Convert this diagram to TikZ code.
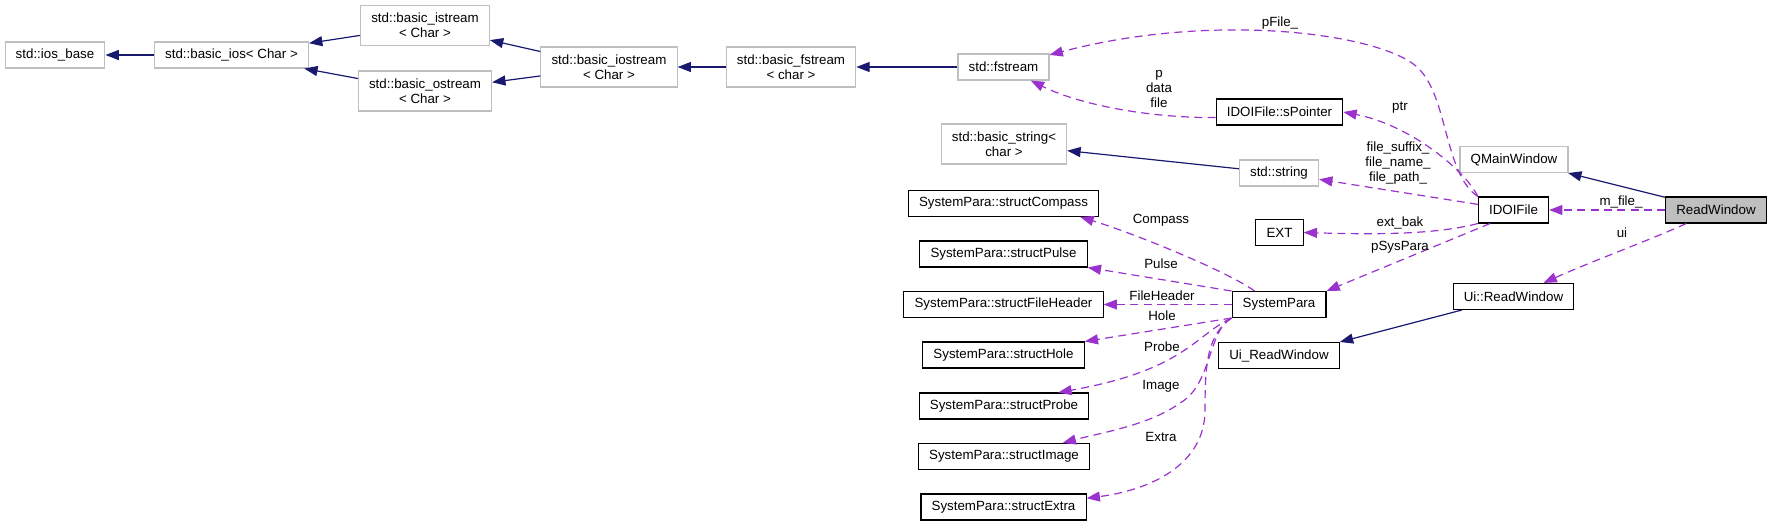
\documentclass[tikz,border=0pt]{standalone}
\usepackage{fontspec}
\setmainfont{Liberation Sans}
\usepackage{tikz}
\usetikzlibrary{
    arrows.meta,
    calc,
}
\usepackage{xcolor}
\definecolor{inhblue}{HTML}{191970}
\definecolor{usepurple}{HTML}{9A32CD}
\definecolor{extgray}{HTML}{BFBFBF}
\definecolor{selgray}{HTML}{BFBFBF}

\begin{document}
\begin{tikzpicture}[
    x=0.75pt, y=-0.75pt,
    font=\fontsize{10}{11.25}\selectfont,
    cls/.style   = {rectangle, draw, line width=0.8pt, align=center,
                    inner xsep=8pt, inner ysep=3pt, minimum height=19.5pt},
    xcls/.style  = {cls, draw=extgray},
    dcls/.style  = {cls, draw=black},
    tall/.style  = {minimum height=30pt},
    inh/.style   = {-{Triangle[length=10pt, width=7.5pt]}, draw=inhblue,
                    line width=0.9pt},
    usage/.style = {-{Triangle[length=10pt, width=7.5pt]}, draw=usepurple,
                    line width=0.9pt, dash pattern=on 6pt off 4pt},
    lbl/.style   = {inner sep=0pt, align=center},
]
\useasboundingbox (0,0) rectangle (1771,526);

%% ── Stream hierarchy: top row ────────────────────────────────────────────────
\node[xcls]       (iosbase)      at (55,55)      {std::ios\_base};
\node[xcls]       (basicios)     at (231.5,55)   {std::basic\_ios< Char >};
\node[xcls, tall] (istream)      at (425,25.5)   {std::basic\_istream\\< Char >};
\node[xcls, tall] (ostream)      at (425,91)     {std::basic\_ostream\\< Char >};
\node[xcls, tall] (iostream)     at (609,67)     {std::basic\_iostream\\< Char >};
\node[xcls, tall] (basicfstream) at (791,67)     {std::basic\_fstream\\< char >};
\node[xcls]       (fstream)      at (1003.5,67)  {std::fstream};

%% ── IDOIFile members ─────────────────────────────────────────────────────────
\node[dcls]       (spointer)     at (1279.5,112) {IDOIFile::sPointer};
\node[xcls, tall] (basicstring)  at (1004,144)   {std::basic\_string<\\char >};
\node[xcls]       (stdstring)    at (1279,173)   {std::string};
\node[dcls]       (ext)          at (1279.5,232.5) {EXT};
\node[dcls]       (idoifile)     at (1513.5,210) {IDOIFile};

%% ── ReadWindow ───────────────────────────────────────────────────────────────
\node[xcls]       (qmainwindow)  at (1514,159.5) {QMainWindow};
\node[dcls, fill=selgray] (readwindow) at (1716,210) {ReadWindow};
\node[dcls]       (uirw)         at (1513.5,296.5) {Ui::ReadWindow};
\node[dcls]       (uigen)        at (1279,355.5) {Ui\_ReadWindow};

%% ── SystemPara and its structs: left column ──────────────────────────────────
\node[dcls]       (systempara)   at (1279,304.5) {SystemPara};
\node[dcls]       (compass)      at (1003.5,203.5) {SystemPara::structCompass};
\node[dcls]       (pulse)        at (1003.5,254) {SystemPara::structPulse};
\node[dcls]       (fileheader)   at (1003.5,304.5) {SystemPara::structFileHeader};
\node[dcls]       (hole)         at (1003.5,355) {SystemPara::structHole};
\node[dcls]       (probe)        at (1004,406)   {SystemPara::structProbe};
\node[dcls]       (image)        at (1004,456.5) {SystemPara::structImage};
\node[dcls]       (extra)        at (1003.5,507) {SystemPara::structExtra};

%% ── Inheritance arrows ───────────────────────────────────────────────────────
\draw[inh] (basicios)     -- (iosbase);
\draw[inh] (istream)      -- (basicios);
\draw[inh] (ostream)      -- (basicios);
\draw[inh] (iostream)     -- (istream);
\draw[inh] (iostream)     -- (ostream);
\draw[inh] (basicfstream) -- (iostream);
\draw[inh] (fstream)      -- (basicfstream);
\draw[inh] (stdstring)    -- (basicstring);
\draw[inh] (readwindow)   -- (qmainwindow);
\draw[inh] (uirw)         -- (uigen.north east);

%% ── Usage arrows from IDOIFile ───────────────────────────────────────────────
\draw[usage] (spointer.185) .. controls (1150,118) and (1080,105) .. (fstream);
\draw[usage] (idoifile.north west) .. controls (1445,175) and (1448,100) .. (1420,70)
    .. controls (1390,35) and (1220,10) .. (fstream);
\draw[usage] (idoifile.north west) .. controls (1465,170) and (1410,125) .. (spointer.east);
\draw[usage] (idoifile) -- (stdstring);
\draw[usage] (idoifile.south west) .. controls (1430,236) and (1360,234) .. (ext.east);
\draw[usage] (idoifile.210) -- (systempara.north east);

%% ── Usage arrows from ReadWindow ─────────────────────────────────────────────
\draw[usage] (readwindow) -- (idoifile);
\draw[usage] (readwindow) .. controls (1650,240) and (1590,262) .. (uirw);

%% ── Usage arrows from SystemPara ─────────────────────────────────────────────
\draw[usage] (systempara.151) .. controls (1225,270) and (1130,232) .. (compass.350);
\draw[usage] (systempara.north west) -- (pulse.south east);
\draw[usage] (systempara) -- (fileheader);
\draw[usage] (systempara.south west) -- (hole.north east);
\draw[usage] (systempara.south west) .. controls (1195,335) and (1185,370) .. (probe.14);
\draw[usage] (systempara.south west) .. controls (1208,330) and (1212,385) .. (1180,403)
    .. controls (1150,425) and (1100,433) .. (image.13);
\draw[usage] (systempara.south west) .. controls (1208,335) and (1205,360) .. (1205,410)
    .. controls (1205,465) and (1150,490) .. (extra.6);

%% ── Edge labels ──────────────────────────────────────────────────────────────
\node[lbl] (lpfile)      at (1280,23)   {pFile\_};
\node[lbl] (lpdata)      at (1159,89)   {p\\data\\file};
\node[lbl] (lptr)        at (1400,108)  {ptr};
\node[lbl] (lfiles)      at (1398,163)  {file\_suffix\_\\file\_name\_\\file\_path\_};
\node[lbl] (lmfile)      at (1621,202)  {m\_file\_};
\node[lbl] (lui)         at (1622,233)  {ui};
\node[lbl] (lextbak)     at (1400,223)  {ext\_bak};
\node[lbl] (lpsyspara)   at (1400,247)  {pSysPara};
\node[lbl] (lcompass)    at (1161,220)  {Compass};
\node[lbl] (lpulse)      at (1161,264)  {Pulse};
\node[lbl] (lfileheader) at (1162,296)  {FileHeader};
\node[lbl] (lhole)       at (1162,316)  {Hole};
\node[lbl] (lprobe)      at (1162,347)  {Probe};
\node[lbl] (limage)      at (1161,386)  {Image};
\node[lbl] (lextra)      at (1161,437)  {Extra};

\end{tikzpicture}
\end{document}
